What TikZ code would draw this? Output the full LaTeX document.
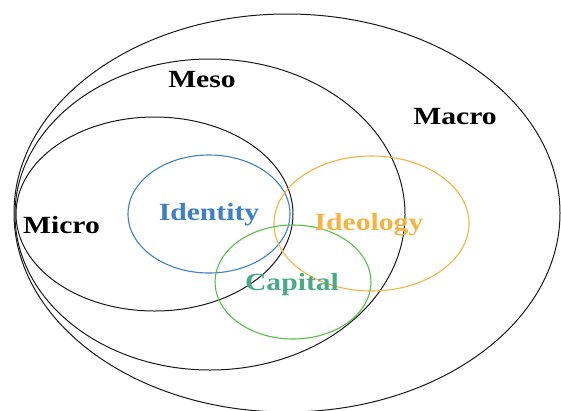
\documentclass[tikz,border=0pt]{standalone}
\usepackage{fontspec}
\setmainfont{Liberation Serif}
\newfontfamily\scalefont[FakeStretch=1.2]{Liberation Serif}

\definecolor{idblue}{RGB}{62,128,198}
\definecolor{ideoorange}{RGB}{245,179,66}
\definecolor{capgreen}{RGB}{92,190,74}
\definecolor{captext}{RGB}{74,170,136}

\begin{document}
\begin{tikzpicture}[
  x=1pt, y=-1pt,
  ring/.style={draw=black!90, line width=1pt},
  themering/.style={line width=1.1pt},
  tag/.style={font=\scalefont\bfseries\fontsize{24.7}{28}\selectfont, inner sep=0pt, anchor=base}
]
\useasboundingbox (0,0) rectangle (561,410);

% levels
\draw[ring] (287,213) ellipse [x radius=273, y radius=199];
\draw[ring] (210,214.5) ellipse [x radius=195, y radius=155.5];
\draw[ring] (154.5,214) ellipse [x radius=138.5, y radius=97];

% themes
\draw[themering, idblue] (209,214) ellipse [x radius=81, y radius=59];
\draw[themering, ideoorange] (371.5,223.5) ellipse [x radius=97.5, y radius=67.5];
\draw[themering, capgreen] (293,282) ellipse [x radius=78, y radius=57];

\node[tag] (meso) at (202,87.3) {Meso};
\node[tag] (macro) at (455,124.3) {Macro};
\node[tag] (micro) at (61.5,233) {Micro};

\node[tag, text=idblue] (identity) at (209,220) {Identity};
\node[tag, text=ideoorange] (ideology) at (369,230) {Ideology};
\node[tag, text=captext] (capital) at (292,290) {Capital};
\end{tikzpicture}
\end{document}
